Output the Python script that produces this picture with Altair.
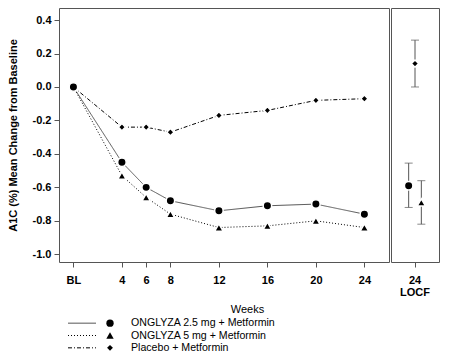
import altair as alt
import pandas as pd

FONT = "Liberation Sans"

# ---- data ----
series = ["ONGLYZA 2.5 mg + Metformin", "ONGLYZA 5 mg + Metformin", "Placebo + Metformin"]
weeks = [0, 4, 6, 8, 12, 16, 20, 24]
week_labels = ["BL", "4", "6", "8", "12", "16", "20", "24"]
onglyza_25 = [0.0, -0.45, -0.60, -0.68, -0.74, -0.71, -0.70, -0.76]
onglyza_5 = [0.0, -0.53, -0.66, -0.76, -0.84, -0.83, -0.80, -0.84]
placebo = [0.0, -0.24, -0.24, -0.27, -0.17, -0.14, -0.08, -0.07]
locf_label = "24 LOCF"
locf_mean = [-0.59, -0.69, 0.14]
locf_lower = [-0.72, -0.82, 0.00]
locf_upper = [-0.455, -0.56, 0.28]
y_ticks = [-1.0, -0.8, -0.6, -0.4, -0.2, 0.0, 0.2, 0.4]

rows = []
for s, vals in zip(series, [onglyza_25, onglyza_5, placebo]):
    for w, lab, v in zip(weeks, week_labels, vals):
        rows.append({"series": s, "week": w, "wlabel": lab, "change": v})
weekly = pd.DataFrame(rows)
locf = pd.DataFrame({"series": series, "visit": locf_label, "mean": locf_mean,
                     "lower": locf_lower, "upper": locf_upper})
legend_df = pd.DataFrame({"series": series})

# ---- styles ----
shapes = ["circle", "triangle-up", "diamond"]
sizes = [72, 72, 52]
dashes = [[1, 0], [1, 2], [4, 2, 1, 2]]
line_colors = ["#555555", "#000000", "#000000"]
GRAY = "#555555"

y_scale = alt.Scale(domain=[-1.046, 0.472], nice=False, zero=False)
x_scale = alt.Scale(domain=[-1.19, 26.03], nice=False, zero=False)
dash_scale = alt.Scale(domain=series, range=dashes)
color_scale = alt.Scale(domain=series, range=line_colors)

x_enc = alt.X("week:Q", scale=x_scale,
              axis=alt.Axis(values=weeks, title="Weeks", domain=False, grid=False,
                            labelExpr="datum.value === 0 ? 'BL' : datum.label",
                            labelFontWeight="bold", labelPadding=7,
                            titleFontWeight="normal", titleX=188, titlePadding=18))
y_enc = alt.Y("change:Q", scale=y_scale,
              axis=alt.Axis(values=y_ticks, title="A1C (%) Mean Change from Baseline",
                            domain=False, grid=False,
                            labelExpr="replace(format(datum.value, '.1f'), '\u2212', '-')",
                            labelFontWeight="bold", labelPadding=3,
                            titleFontWeight="bold", titlePadding=14))

base = alt.Chart(weekly)

lines = base.mark_line(strokeWidth=1).encode(
    x=x_enc, y=y_enc,
    strokeDash=alt.StrokeDash("series:N", scale=dash_scale, legend=None),
    color=alt.Color("series:N", scale=color_scale, legend=None),
)

marker_layers = []
for i in [2, 1, 0]:
    marker_layers.append(
        base.transform_filter(alt.datum.series == series[i]).mark_point(
            shape=shapes[i], filled=True, size=sizes[i], color="black", opacity=1,
            stroke="white", strokeWidth=1.5,
        ).encode(x=x_enc, y=y_enc)
    )

left = alt.layer(lines, *marker_layers).properties(width=330, height=254)

# ---- LOCF panel ----
rbase = alt.Chart(locf)
xr = alt.X("visit:N", scale=alt.Scale(paddingOuter=0.763, paddingInner=0),
           axis=alt.Axis(title=None, labelAngle=0, domain=False,
                         labelExpr="split(datum.label, ' ')",
                         labelFontWeight="bold", labelPadding=7, labelLineHeight=12.5))
xo = alt.XOffset("series:N", scale=alt.Scale(domain=[series[0], series[2], series[1]],
                                              paddingInner=0, paddingOuter=0))
y_lo = alt.Y("lower:Q", scale=y_scale, axis=None)

rules = rbase.mark_rule(color=GRAY, strokeWidth=1).encode(x=xr, xOffset=xo, y=y_lo, y2="upper:Q")
cap_lo = rbase.mark_tick(color=GRAY, size=8, thickness=1).encode(x=xr, xOffset=xo, y=y_lo)
cap_hi = rbase.mark_tick(color=GRAY, size=8, thickness=1).encode(
    x=xr, xOffset=xo, y=alt.Y("upper:Q", scale=y_scale, axis=None))
r_points = []
for i in [2, 1, 0]:
    r_points.append(
        rbase.transform_filter(alt.datum.series == series[i]).mark_point(
            shape=shapes[i], filled=True, size=sizes[i], color="black", opacity=1,
            stroke="white", strokeWidth=1.5,
        ).encode(x=xr, xOffset=xo, y=alt.Y("mean:Q", scale=y_scale, axis=None))
    )
right = alt.layer(rules, cap_lo, cap_hi, *r_points).properties(width=48, height=254)

top = alt.hconcat(left, right, spacing=0)

# ---- legend (drawn from the series list) ----
LX0 = 9   # legend line start (px inside legend view)
lbase = alt.Chart(legend_df)
ly = alt.Y("series:N", scale=alt.Scale(domain=series, paddingInner=0, paddingOuter=0), axis=None)
leg_lines = lbase.mark_rule(strokeWidth=1).encode(
    x=alt.value(LX0), x2=alt.value(LX0 + 28), y=ly,
    strokeDash=alt.StrokeDash("series:N", scale=dash_scale, legend=None),
    color=alt.Color("series:N", scale=color_scale, legend=None),
)
leg_marks = []
for i in range(3):
    leg_marks.append(
        lbase.transform_filter(alt.datum.series == series[i]).mark_point(
            shape=shapes[i], filled=True, size=sizes[i] - 18, color="black", opacity=1,
        ).encode(x=alt.value(LX0 + 42), y=ly)
    )
leg_text = lbase.mark_text(align="left", baseline="middle", font=FONT, fontSize=10.6,
                           color="black").encode(x=alt.value(LX0 + 63), y=ly, text="series:N")
legend_chart = alt.layer(leg_lines, *leg_marks, leg_text).properties(
    width=378, height=37, view=alt.ViewBackground(strokeOpacity=0))

chart = (
    alt.vconcat(top, legend_chart, spacing=2)
    .properties(padding={"left": 6, "top": 7, "right": 5, "bottom": 5})
    .configure_view(stroke=GRAY, strokeWidth=1)
    .configure_axis(labelFont=FONT, labelFontSize=11, labelColor="black",
                    titleFont=FONT, titleFontSize=11, titleColor="black",
                    tickColor=GRAY, tickSize=5, tickWidth=1)
)

chart.save("out.html", embed_options={"renderer": "svg", "actions": False})
